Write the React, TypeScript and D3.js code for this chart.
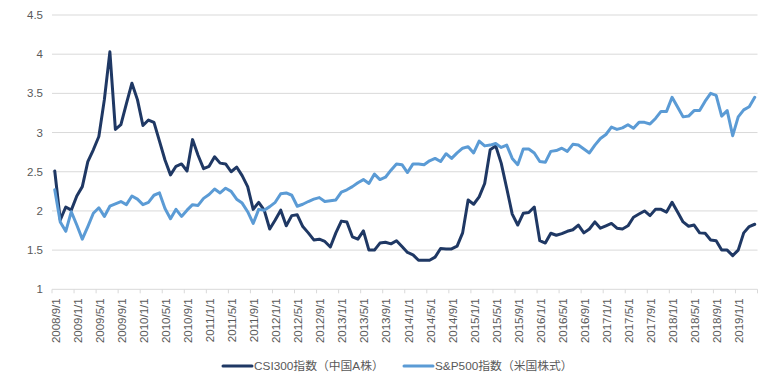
import React from "react";
import * as d3 from "d3";

const csi300: number[] = [
  2.51, 1.885, 2.05, 2.01, 2.19, 2.31, 2.63, 2.78, 2.95, 3.42,
  4.03, 3.04, 3.1, 3.37, 3.63, 3.42, 3.09, 3.16, 3.13, 2.89,
  2.65, 2.46, 2.57, 2.6, 2.51, 2.91, 2.71, 2.54, 2.57, 2.69,
  2.61, 2.6, 2.5, 2.56, 2.45, 2.31, 2.02, 2.11, 2.01, 1.77,
  1.885, 2.01, 1.81, 1.94, 1.95, 1.8, 1.72, 1.63, 1.64, 1.61,
  1.54, 1.72, 1.87, 1.86, 1.67, 1.64, 1.745, 1.5, 1.5, 1.59,
  1.6, 1.58, 1.62, 1.545, 1.47, 1.44, 1.37, 1.37, 1.37, 1.41,
  1.52, 1.515, 1.515, 1.55, 1.72, 2.14, 2.085, 2.18, 2.35, 2.78,
  2.83, 2.61, 2.29, 1.96, 1.82, 1.97, 1.98, 2.05, 1.62, 1.59,
  1.715, 1.69, 1.71, 1.74, 1.76, 1.82, 1.72, 1.77, 1.86, 1.78,
  1.81, 1.84, 1.78, 1.77, 1.81, 1.92, 1.96, 2.0, 1.94, 2.02,
  2.02, 1.985, 2.11, 1.985, 1.86, 1.805, 1.82, 1.72, 1.715, 1.63,
  1.62, 1.5, 1.5, 1.43, 1.5, 1.72, 1.8, 1.83,
];

const sp500: number[] = [
  2.27, 1.86, 1.74, 1.99, 1.82, 1.64, 1.8, 1.97, 2.04, 1.93,
  2.06, 2.09, 2.12, 2.08, 2.19, 2.15, 2.08, 2.11, 2.2, 2.23,
  2.03, 1.9, 2.02, 1.93, 2.01, 2.08, 2.07, 2.16, 2.21, 2.28,
  2.23, 2.29, 2.25, 2.15, 2.1, 1.99, 1.84, 2.02, 2.01, 2.055,
  2.11, 2.22, 2.23, 2.2, 2.06, 2.085, 2.12, 2.15, 2.17, 2.12,
  2.13, 2.14, 2.24, 2.27, 2.31, 2.36, 2.4, 2.35, 2.47, 2.4,
  2.43, 2.52, 2.6, 2.59, 2.49, 2.6, 2.6, 2.59, 2.64, 2.67,
  2.63, 2.73, 2.67, 2.74, 2.8, 2.82, 2.74, 2.89, 2.83, 2.84,
  2.86, 2.81, 2.84, 2.67, 2.59, 2.79, 2.79, 2.74, 2.63, 2.62,
  2.76, 2.77, 2.8, 2.76, 2.85, 2.84, 2.79, 2.74, 2.84, 2.925,
  2.975, 3.07, 3.04, 3.06, 3.1, 3.055, 3.13, 3.13, 3.11, 3.18,
  3.27, 3.27, 3.45, 3.325, 3.2, 3.21, 3.28, 3.28, 3.4, 3.5,
  3.475, 3.21, 3.28, 2.96, 3.2, 3.29, 3.33, 3.45,
];

// Monthly categories 2008/9/1 .. 2019/4/1
const categories: string[] = d3
  .timeMonth.range(new Date(2008, 8, 1), new Date(2019, 4, 1))
  .map((d) => `${d.getFullYear()}/${d.getMonth() + 1}/1`);

const tickLabels: string[] = [
  "2008/9/1", "2009/1/1", "2009/5/1", "2009/9/1", "2010/1/1", "2010/5/1",
  "2010/9/1", "2011/1/1", "2011/5/1", "2011/9/1", "2012/1/1", "2012/5/1",
  "2012/9/1", "2013/1/1", "2013/5/1", "2013/9/1", "2014/1/1", "2014/5/1",
  "2014/9/1", "2015/1/1", "2015/5/1", "2015/9/1", "2016/1/1", "2016/5/1",
  "2016/9/1", "2017/1/1", "2017/5/1", "2017/9/1", "2018/1/1", "2018/5/1",
  "2018/9/1", "2019/1/1",
];

const yTicks: number[] = [1, 1.5, 2, 2.5, 3, 3.5, 4, 4.5];

const seriesNames: string[] = ["CSI300指数（中国A株）", "S&P500指数（米国株式）"];
const seriesColors: string[] = ["#1F3864", "#5B9BD5"];

export default function App() {
  const W = 780;
  const H = 385;
  const left = 52;
  const right = 757.5;
  const top = 15;
  const bottom = 289.3;

  const x = d3.scaleBand<string>().domain(categories).range([left, right]).paddingInner(0).paddingOuter(0);
  const y = d3.scaleLinear().domain([1, 4.5]).range([bottom, top]);
  const cx = (i: number) => (x(categories[i]) as number) + x.bandwidth() / 2;

  const line = d3
    .line<number>()
    .x((_, i) => cx(i))
    .y((d) => y(d));

  const font = "'Liberation Sans', Arial, 'Noto Sans CJK JP', sans-serif";
  const textColor = "#595959";
  const tickIdx = categories.map((_, i) => i).filter((i) => i % 4 === 0);

  return (
    <svg
      width={W}
      height={H}
      style={{ position: "absolute", left: 0, top: 0, background: "#fff" }}
      fontFamily={font}
    >
      {yTicks.map((t) => (
        <g key={t}>
          {t > 1 && (
            <line x1={left} x2={right} y1={y(t)} y2={y(t)} stroke="#D9D9D9" strokeWidth={1} />
          )}
          <text x={43} y={y(t)} dy="0.35em" textAnchor="end" fontSize={11.5} fill={textColor}>
            {String(t)}
          </text>
        </g>
      ))}
      <line x1={left} x2={right} y1={bottom} y2={bottom} stroke="#D9D9D9" strokeWidth={1} />
      {tickIdx.concat([categories.length]).map((i) => {
        const xx = i < categories.length ? (x(categories[i]) as number) : right;
        return <line key={"t" + i} x1={xx} x2={xx} y1={bottom} y2={bottom + 4} stroke="#D9D9D9" strokeWidth={1} />;
      })}
      {tickIdx.map((i, k) => (
        <text
          key={"l" + i}
          transform={`translate(${cx(i) + 1},${bottom + 9}) rotate(-90)`}
          textAnchor="end"
          dy="0.35em"
          fontSize={11.5}
          fill={textColor}
        >
          {tickLabels[k]}
        </text>
      ))}
      {[csi300, sp500].map((s, k) => (
        <path
          key={"s" + k}
          d={line(s) as string}
          fill="none"
          stroke={seriesColors[k]}
          strokeWidth={3}
          strokeLinejoin="round"
          strokeLinecap="round"
        />
      ))}
      {seriesNames.map((n, k) => {
        const lx = k === 0 ? 223 : 404;
        return (
          <g key={"lg" + k}>
            <line x1={lx} x2={lx + 29} y1={366} y2={366} stroke={seriesColors[k]} strokeWidth={3} strokeLinecap="round" />
            <text x={lx + 31} y={366} dy="0.35em" fontSize={11.8} fill={textColor}>
              {n}
            </text>
          </g>
        );
      })}
    </svg>
  );
}
